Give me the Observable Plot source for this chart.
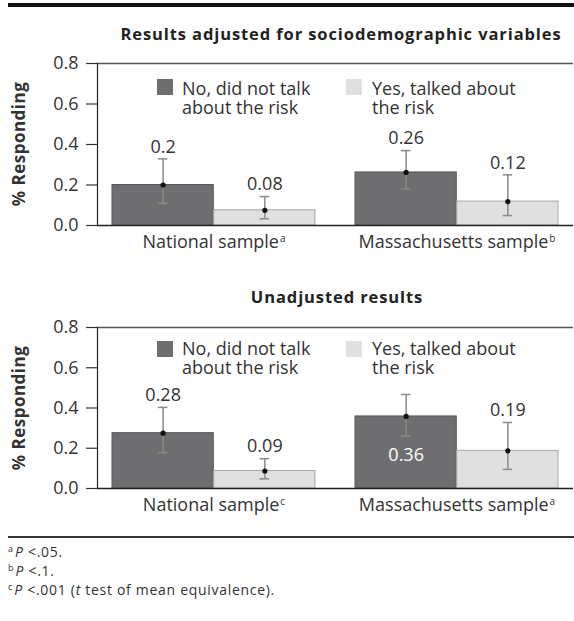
<!DOCTYPE html>
<html>
<head>
<meta charset="utf-8">
<script src="https://cdn.jsdelivr.net/npm/d3@7"></script>
<script src="https://cdn.jsdelivr.net/npm/@observablehq/plot@0.6"></script>
<style>
  body { margin: 0; background: #fff; font-family: "Open Sans", sans-serif; color: #333; }
  #page { position: relative; width: 574px; height: 621px; overflow: hidden; background: #fff; }
  .abs { position: absolute; }
  .toprule { left: 8px; right: 0; top: 3px; height: 4px; background: #111; }
  .footrule { left: 8px; right: 0; top: 536px; height: 1.5px; background: #333; }
  .title { font-weight: bold; font-size: 16.5px; letter-spacing: 0.9px; color: #222; white-space: nowrap; transform: translate(-50%, -50%); }
  .ytitle { font-weight: bold; font-size: 17px; letter-spacing: 0.5px; color: #333; white-space: nowrap; transform: translate(-50%, -50%) rotate(-90deg); }
  .sw { width: 16px; height: 16px; }
  .legtext { font-size: 18px; line-height: 19px; height: 19px; color: #333; white-space: nowrap; }
  .foot { left: 8px; font-size: 14px; letter-spacing: 0.7px; color: #333; top: 542px; }
  .foot div { height: 19px; line-height: 19px; white-space: nowrap; }
  .foot sup { font-size: 9px; line-height: 0; vertical-align: 5px; margin-right: 2px; letter-spacing: 0; }
  .chart { left: 0; }
</style>
</head>
<body>
<div id="page"></div>
<script>
// ---------- data ----------
const groups = ["National sample", "Massachusetts sample"];
const responses = ["No, did not talk about the risk", "Yes, talked about the risk"];
const responseLines = [["No, did not talk", "about the risk"], ["Yes, talked about", "the risk"]];

const titles = ["Results adjusted for sociodemographic variables", "Unadjusted results"];

// order of values: National-No, National-Yes, Massachusetts-No, Massachusetts-Yes
const adjSup = ["a", "b"];
const adjMean = [0.200, 0.075, 0.262, 0.118];
const adjLow = [0.110, 0.033, 0.181, 0.049];
const adjHigh = [0.329, 0.143, 0.370, 0.250];
const adjLabels = ["0.2", "0.08", "0.26", "0.12"];

const unadjSup = ["c", "a"];
const unadjMean = [0.275, 0.087, 0.358, 0.187];
const unadjLow = [0.178, 0.048, 0.260, 0.095];
const unadjHigh = [0.403, 0.148, 0.467, 0.328];
const unadjLabels = ["0.28", "0.09", "0.36", "0.19"];

const yTicks = [0, 0.2, 0.4, 0.6, 0.8];
const footnotes = [
  ["a", "<i>P</i> &lt;.05."],
  ["b", "<i>P</i> &lt;.1."],
  ["c", "<i>P</i> &lt;.001 (<i>t</i> test of mean equivalence)."]
];

// ---------- styles ----------
const colors = ["#6e6e70", "#e0e0e1"];
const strokes = ["#58585a", "#a8a8a8"];
const W = 574, ML = 97, MR = 1;
const pIn = 0.164, pOut = 0.06;
const FS = 18;

function makeChart(mean, low, high, labels, sups, height, marginTop) {
  const rows = [];
  groups.forEach((g, i) => responses.forEach((r, j) => {
    const k = i * 2 + j;
    rows.push({group: g, resp: r, j, mean: mean[k], low: low[k], high: high[k], label: labels[k]});
  }));
  const band = d3.scaleBand().domain(groups).range([ML, W - MR]).paddingInner(pIn).paddingOuter(pOut).align(0.5);
  const bw = band.bandwidth();
  const offs = [-bw / 4, bw / 4];
  const cap = 5;
  const marks = [];
  // bars
  [0, 1].forEach(j => {
    const sub = rows.filter(d => d.j === j);
    marks.push(Plot.barY(sub, {
      x: "group", y: "mean", fill: colors[j], stroke: strokes[j], strokeWidth: 1,
      insetLeft: j === 0 ? 0 : bw / 2, insetRight: j === 0 ? bw / 2 : 0
    }));
  });
  // error bars, means and value labels
  [0, 1].forEach(j => {
    const sub = rows.filter(d => d.j === j);
    const il = j === 0 ? bw / 4 - cap : 3 * bw / 4 - cap;
    const ir = j === 0 ? 3 * bw / 4 - cap : bw / 4 - cap;
    marks.push(Plot.ruleX(sub, {x: "group", y1: "low", y2: "high", dx: offs[j], stroke: "#8a8a8a", strokeWidth: 1.5}));
    marks.push(Plot.tickY(sub, {x: "group", y: "low", insetLeft: il, insetRight: ir, stroke: "#8a8a8a", strokeWidth: 1.5}));
    marks.push(Plot.tickY(sub, {x: "group", y: "high", insetLeft: il, insetRight: ir, stroke: "#8a8a8a", strokeWidth: 1.5}));
    marks.push(Plot.dot(sub, {x: "group", y: "mean", dx: offs[j], r: 2.6, fill: "#111", stroke: "none"}));
    // label above the error bar, or inside the bar when the error bar reaches into the legend area
    marks.push(Plot.text(sub.filter(d => d.high < 0.45), {
      x: "group", y: "high", text: "label", dx: offs[j], dy: -12, fill: "#333", fontSize: FS
    }));
    marks.push(Plot.text(sub.filter(d => d.high >= 0.45), {
      x: "group", y: d => d.mean / 2, text: "label", dx: offs[j], dy: 3, fill: "#fff", fontSize: FS
    }));
  });
  // frame
  marks.push(Plot.ruleY([0.8], {stroke: "#555", strokeWidth: 1.4}));
  marks.push(Plot.ruleY([0], {stroke: "#222", strokeWidth: 1.4}));
  marks.push(Plot.frame({anchor: "left", stroke: "#222", strokeWidth: 1.2}));
  marks.push(Plot.axisY({ticks: yTicks, tickFormat: d3.format(".1f"), tickSize: 11, tickPadding: 8, label: null, fontSize: FS, stroke: "#333", strokeWidth: 1.2}));
  marks.push(Plot.axisX({tickSize: 0, tickPadding: 10, label: null, fontSize: FS,
    tickFormat: d => d + "^" + sups[groups.indexOf(d)]}));

  const svg = Plot.plot({
    width: W, height, marginLeft: ML, marginRight: MR, marginTop, marginBottom: 30,
    style: {fontFamily: "'Open Sans', sans-serif", fontSize: FS + "px", color: "#333", background: "transparent", overflow: "visible"},
    x: {domain: groups, paddingInner: pIn, paddingOuter: pOut, align: 0.5, axis: null},
    y: {domain: [0, 0.8], axis: null},
    marks
  });
  // superscripts on the category labels
  d3.select(svg).selectAll("text").each(function () {
    const t = this.textContent;
    if (t.includes("^") && this.childElementCount === 0) {
      const [a, b] = t.split("^");
      this.textContent = a;
      d3.select(this).append("tspan").attr("font-size", 10).attr("dy", "-0.6em").attr("dx", "1").text(b);
    }
  });
  return svg;
}

const page = document.getElementById("page");
function addDiv(cls, css, html) {
  const d = document.createElement("div");
  d.className = "abs " + cls;
  Object.assign(d.style, css);
  if (html != null) d.innerHTML = html;
  page.appendChild(d);
  return d;
}

addDiv("toprule", {});
addDiv("title", {left: "341px", top: "33px"}, titles[0]);
addDiv("title", {left: "337px", top: "296px"}, titles[1]);

const c1 = makeChart(adjMean, adjLow, adjHigh, adjLabels, adjSup, 205, 13);
const c2 = makeChart(unadjMean, unadjLow, unadjHigh, unadjLabels, unadjSup, 204, 13);
const w1 = addDiv("chart", {top: "50px"}); w1.appendChild(c1);
const w2 = addDiv("chart", {top: "314px"}); w2.appendChild(c2);

addDiv("ytitle", {left: "18px", top: "144px"}, "% Responding");
addDiv("ytitle", {left: "18px", top: "408px"}, "% Responding");

// legends inside each panel
[[79, 79], [341, 339]].forEach(([sq, tx]) => {
  [0, 1].forEach(j => {
    const sx = j === 0 ? 157 : 346, tx0 = j === 0 ? 182 : 372;
    addDiv("sw", {left: sx + "px", top: sq + "px", background: colors[j]});
    responseLines[j].forEach((line, li) => {
      addDiv("legtext", {left: tx0 + "px", top: (tx + li * 19) + "px"}, line);
    });
  });
});

addDiv("footrule", {});
addDiv("foot", {}, footnotes.map(([s, t]) => `<div><sup>${s}</sup>${t}</div>`).join(""));
</script>
</body>
</html>
